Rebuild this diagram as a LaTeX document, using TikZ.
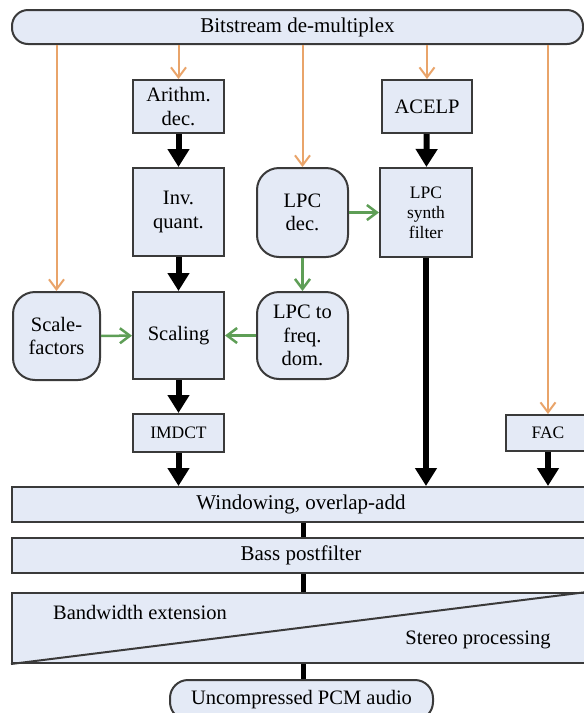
\documentclass[tikz,border=0pt]{standalone}
\usepackage{fontspec}
\setmainfont{Liberation Serif}
\newfontfamily\diagfont{Liberation Serif}
\usetikzlibrary{arrows.meta}

\definecolor{boxfill}{RGB}{228,234,246}
\definecolor{boxline}{RGB}{58,58,58}
\definecolor{demuxline}{RGB}{233,164,106}
\definecolor{lpcline}{RGB}{94,158,86}

\begin{document}
\begin{tikzpicture}[x=1pt,y=-1pt]
	\tikzstyle{block}=[rectangle, draw=boxline, fill=boxfill, line width=2pt, align=center, inner sep=0pt, font=\diagfont\fontsize{20.5}{23.5}\selectfont]
	\tikzstyle{soft}=[block, rounded corners=22pt]
	\tikzstyle{small}=[block, font=\diagfont\fontsize{17.5}{20}\selectfont]
	\tikzstyle{bar}=[block, minimum height=35pt, font=\diagfont\fontsize{21}{23}\selectfont]
	\tikzstyle{label}=[inner sep=0pt, font=\diagfont\fontsize{20.5}{23}\selectfont]
	\tikzstyle{main}=[-{Triangle[width=21pt,length=18pt]}, line width=6pt]
	\tikzstyle{link}=[line width=5pt]
	\tikzstyle{side}=[-{Straight Barb[width=15pt,length=10pt]}, line width=2pt, color=demuxline]
	\tikzstyle{lpc}=[-{Straight Barb[width=15pt,length=10pt]}, line width=2.5pt, color=lpcline]

	\useasboundingbox (0,0) rectangle (584,713);
	\clip (0,0) rectangle (584,713);

	\node[block, rounded corners=16pt, minimum width=571pt, minimum height=34pt, font=\diagfont\fontsize{21}{23}\selectfont] (demux) at (297.5,27) {Bitstream de-multiplex};

	\node[block, minimum width=91pt, minimum height=53pt] (arith) at (178.5,106.5) {Arithm.\\dec.};
	\node[block, minimum width=90pt, minimum height=53pt] (acelp) at (427,106.5) {ACELP};

	\node[block, minimum width=91pt, minimum height=88pt] (invq) at (178.5,212) {Inv.\\quant.};
	\node[soft, minimum width=91pt, minimum height=89pt] (lpcdec) at (302.5,212.5) {LPC\\dec.};
	\node[small, minimum width=92pt, minimum height=89pt] (synth) at (426,212.5) {LPC\\synth\\filter};

	\node[soft, minimum width=87pt, minimum height=88pt] (scalef) at (56.5,336) {Scale-\\factors};
	\node[block, minimum width=91pt, minimum height=87pt] (scaling) at (178.5,335.5) {Scaling};
	\node[soft, minimum width=91pt, minimum height=87pt] (lpcfreq) at (302.5,335.5) {LPC to\\freq.\\dom.};

	\node[small, minimum width=91pt, minimum height=38pt] (imdct) at (178.5,433) {IMDCT};
	\node[small, minimum width=84pt, minimum height=36pt] (fac) at (548,433) {FAC};

	\node[bar, minimum width=578pt] (window) at (301,504.5) {Windowing, overlap-add};
	\node[bar, minimum width=578pt] (bass) at (301,555.5) {Bass postfilter};
	\node[bar, minimum width=574pt, minimum height=70pt] (bwe) at (299,628) {};
	\draw[line width=2pt, draw=boxline] (bwe.south west) -- (bwe.north east);
	\node[label, anchor=west] (bwtext) at (53,612) {Bandwidth extension};
	\node[label] (sttext) at (478,640) {Stereo processing};

	\node[block, rounded corners=18pt, minimum width=263pt, minimum height=40pt] (pcm) at (301.5,700) {Uncompressed PCM audio};

	% demultiplexed parameters
	\path[side]
		(demux.south -| scalef) edge (scalef)
		(demux.south -| arith) edge (arith)
		(demux.south -| lpcdec) edge (lpcdec)
		(demux.south -| acelp) edge (acelp)
		(demux.south -| fac) edge (fac);

	% LPC paths
	\path[lpc]
		(lpcdec) edge (synth)
		(lpcdec) edge (lpcfreq)
		(scalef) edge (scaling)
		(lpcfreq) edge (scaling);

	% signal paths
	\path[main]
		(arith) edge (invq)
		(invq) edge (scaling)
		(scaling) edge (imdct)
		(acelp) edge (synth)
		(imdct) edge (imdct |- window.north)
		(synth) edge (synth |- window.north)
		(fac) edge (fac |- window.north);

	\path[link]
		(window.south -| 303,0) edge (bass.north -| 303,0)
		(bass.south -| 303,0) edge (bwe.north -| 303,0)
		(bwe.south -| 303,0) edge (pcm.north -| 303,0);
\end{tikzpicture}
\end{document}
